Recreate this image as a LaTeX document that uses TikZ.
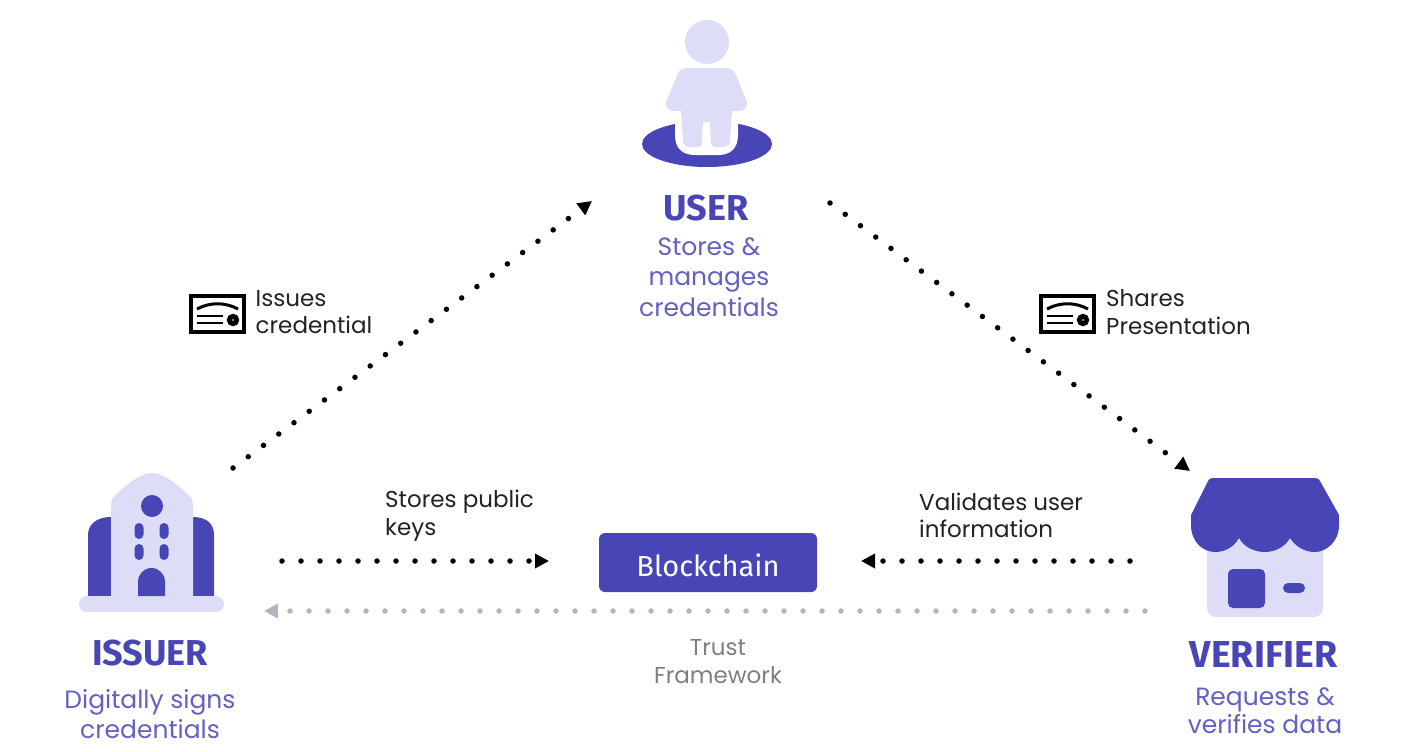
\documentclass[tikz,border=0pt]{standalone}
\usepackage{fontspec}
\setmainfont{Poppins}
\newfontfamily\headfont{Fira Sans}
\usetikzlibrary{arrows.meta}
\definecolor{brandblue}{HTML}{4845B6}
\definecolor{brandlight}{HTML}{DDDDF8}
\definecolor{labelink}{HTML}{222222}
\definecolor{trustgrey}{HTML}{B4B4C0}
\tikzset{
  flow/.style={line width=5.5pt, line cap=round, dash pattern=on 0pt off 19pt, -{Triangle[length=14pt,width=14pt]}, draw=black},
  trustflow/.style={flow, draw=trustgrey},
  headtext/.style={font=\headfont\bfseries\fontsize{36}{38}\selectfont, text=brandblue, inner sep=0pt},
  roletext/.style={font=\fontsize{25}{30.5}\selectfont, text=brandblue!85, align=center, inner sep=0pt},
  notetext/.style={font=\fontsize{23}{27.5}\selectfont, text=labelink, align=left, inner sep=0pt},
  credicon/.pic={
    \draw[line width=3.4pt, draw=black] (1,1) rectangle (54,37);
    \draw[line width=3pt] (7,14) .. controls (20,7) and (35,7) .. (48,14);
    \draw[line width=2.4pt] (7,21) -- (33,21) (7,28) -- (33,28);
    \draw[line width=5pt] (43,25) circle (3.6);
  }
}
\begin{document}
\begin{tikzpicture}[x=1pt,y=-1pt]
\useasboundingbox (0,0) rectangle (1405,752);

% user figure
\fill[brandblue] (707,144) ellipse (65 and 23);
\fill[white] (675,115) -- (738,115) -- (738,135) .. controls (738,149) and (730,155) .. (718,155) -- (695,155) .. controls (683,155) and (675,149) .. (675,135) -- cycle;
\fill[brandlight] (707,42) circle (22);
\fill[brandlight] (687,68) -- (726,68) .. controls (733,68) and (735,72) .. (737,78)
  -- (746,100) .. controls (749,107) and (745,111) .. (738,111) -- (732,111) -- (730,140)
  .. controls (730,145) and (727,147) .. (723,147) -- (716,147) .. controls (712,147) and (711,145) .. (711,141)
  -- (710,122) -- (703,122) -- (702,141) .. controls (702,145) and (701,147) .. (697,147)
  -- (690,147) .. controls (686,147) and (683,145) .. (683,140) -- (681,111) -- (675,111)
  .. controls (668,111) and (664,107) .. (667,100) -- (676,78) .. controls (678,72) and (680,68) .. (687,68) -- cycle;

% issuer building
\fill[brandblue] (88,596) -- (88,535) .. controls (88,524) and (97,517) .. (111,517) -- (193,517) .. controls (207,517) and (214,524) .. (214,535) -- (214,596) -- cycle;
\fill[brandlight] (111,600) -- (111,505) .. controls (111,498) and (116,494) .. (121,490)
  .. controls (130,482) and (142,473) .. (152,473) .. controls (162,473) and (174,482) .. (183,490)
  .. controls (188,494) and (193,498) .. (193,505) -- (193,600) -- cycle;
\fill[brandlight, rounded corners=8] (79,596) rectangle (224,612);
\fill[brandblue] (152,506) circle (11);
\foreach \wx in {139,164}
  \foreach \wy in {531,552}
    \fill[brandblue, rounded corners=4.5] (\wx-4.5,\wy-8) rectangle (\wx+4.5,\wy+8);
\fill[brandblue] (138,596) -- (138,582) .. controls (138,574) and (144,568) .. (151.5,568) .. controls (159,568) and (165,574) .. (165,582) -- (165,596) -- cycle;

% verifier shop
\fill[brandlight, rounded corners=9] (1207,525) rectangle (1323,617);
\fill[brandblue] (1208,481) .. controls (1209,479) and (1210,478) .. (1213,478) -- (1315,478) .. controls (1318,478) and (1319,479) .. (1320,481)
  -- (1339,515) -- (1339,525) .. controls (1339,542) and (1326,552) .. (1315,552) .. controls (1304,552) and (1295,546) .. (1290,538)
  .. controls (1285,547) and (1275,552) .. (1265,552) .. controls (1254,552) and (1244,547) .. (1239,538)
  .. controls (1234,547) and (1225,552) .. (1215,552) .. controls (1203,552) and (1191,542) .. (1191,525) -- (1191,515) -- cycle;
\fill[brandblue, rounded corners=5] (1228,569) rectangle (1265,608);
\fill[brandblue, rounded corners=5] (1283,583) rectangle (1305,593);

% blockchain box
\node[fill=brandblue, rounded corners=6pt, minimum width=218pt, minimum height=59pt, inner sep=0pt, text=white, font=\headfont\fontsize{29}{31}\selectfont] (blockchain) at (708,562.5) {};
\node[text=white, inner sep=0pt, font=\headfont\fontsize{29}{31}\selectfont] (blocktext) at (708,565) {Blockchain};

% headings
\node[headtext] (userhead) at (706,208.5) {USER};
\node[headtext] (issuerhead) at (150,653.5) {ISSUER};
\node[headtext, font=\headfont\bfseries\fontsize{37.5}{38}\selectfont] (verifierhead) at (1263.5,654.5) {VERIFIER};

% role texts
\node[roletext] (userrole) at (709,277) {Stores \&\\manages\\credentials};
\node[roletext, font=\fontsize{25}{30}\selectfont] (issuerrole) at (150,714) {Digitally signs\\credentials};
\node[roletext, font=\fontsize{25}{28}\selectfont] (verifierrole) at (1265,710.5) {Requests \&\\verifies data};

% arrow labels
\node[notetext, anchor=west] (issuenote) at (255.5,312) {Issues\\credential};
\node[notetext, anchor=west] (sharenote) at (1106,312) {Shares\\Presentation};
\node[notetext, anchor=west] (keysnote) at (385,515.5) {Stores public\\keys};
\node[notetext, anchor=west] (validnote) at (919,515.5) {Validates user\\information};
\node[notetext, anchor=center, align=center, text=trustgrey!70!black] (trustnote) at (718,661.5) {Trust\\Framework};

% certificate icons
\pic at (190,295) {credicon};
\pic at (1040,295) {credicon};

% arrow ends
\coordinate (issuerout) at (233,468);
\coordinate (userin) at (592,201);
\coordinate (userout) at (830,203);
\coordinate (verifierin) at (1190,471);
\coordinate (issuerkeys) at (282,561);
\coordinate (chainleft) at (549,561);
\coordinate (verifierkeys) at (1130,561);
\coordinate (chainright) at (861,561);
\coordinate (verifiertrust) at (1145,611);
\coordinate (issuertrust) at (264,611);

% flows
\draw[flow] (issuerout) -- (userin);
\draw[flow] (userout) -- (verifierin);
\draw[flow] (issuerkeys) -- (chainleft);
\draw[flow] (verifierkeys) -- (chainright);
\draw[trustflow] (verifiertrust) -- (issuertrust);

\end{tikzpicture}
\end{document}
